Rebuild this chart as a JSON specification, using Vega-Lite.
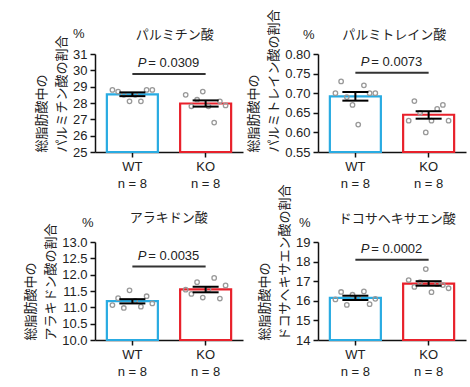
{
  "$schema": "https://vega.github.io/schema/vega-lite/v6.json",
  "padding": {"left": 24, "top": 8, "right": 5, "bottom": 5},
  "bounds": "flush",
  "columns": 2,
  "spacing": {"row": 90, "column": 75},
  "config": {
    "font": "Liberation Sans, Noto Sans CJK JP, sans-serif",
    "view": {"stroke": null},
    "scale": {"bandPaddingInner": 0.3, "bandPaddingOuter": 0.16, "barBandPaddingInner": 0.3, "bandWithNestedOffsetPaddingInner": 0.3, "bandWithNestedOffsetPaddingOuter": 0.16},
    "axis": {"labelFontSize": 13, "titleFontSize": 13, "titleFontWeight": "normal", "labelColor": "#222", "titleColor": "#222", "domainColor": "#111", "tickColor": "#111", "domainWidth": 1.5, "tickWidth": 1.5, "tickSize": 5, "grid": false, "labelPadding": 3, "titlePadding": 4, "labelOverlap": false, "labelFlush": false},
    "text": {"fontSize": 13, "color": "#222"}
  },
  "datasets": {
    "sum": [
      {"acid": "palm", "g": "WT", "mean": 28.53, "lo": 28.42, "hi": 28.65},
      {"acid": "palm", "g": "KO", "mean": 27.97, "lo": 27.78, "hi": 28.16},
      {"acid": "pola", "g": "WT", "mean": 0.692, "lo": 0.681, "hi": 0.703},
      {"acid": "pola", "g": "KO", "mean": 0.645, "lo": 0.635, "hi": 0.654},
      {"acid": "ara", "g": "WT", "mean": 11.19, "lo": 11.12, "hi": 11.25},
      {"acid": "ara", "g": "KO", "mean": 11.55, "lo": 11.46, "hi": 11.63},
      {"acid": "dha", "g": "WT", "mean": 16.15, "lo": 16.04, "hi": 16.26},
      {"acid": "dha", "g": "KO", "mean": 16.88, "lo": 16.77, "hi": 17.0}
    ],
    "pts": [
      {"acid": "palm", "g": "WT", "rep": 1, "v": 28.8},
      {"acid": "palm", "g": "WT", "rep": 2, "v": 28.7},
      {"acid": "palm", "g": "WT", "rep": 3, "v": 28.5},
      {"acid": "palm", "g": "WT", "rep": 4, "v": 28.1},
      {"acid": "palm", "g": "WT", "rep": 5, "v": 28.5},
      {"acid": "palm", "g": "WT", "rep": 6, "v": 28.1},
      {"acid": "palm", "g": "WT", "rep": 7, "v": 28.8},
      {"acid": "palm", "g": "WT", "rep": 8, "v": 28.8},
      {"acid": "palm", "g": "KO", "rep": 1, "v": 28.5},
      {"acid": "palm", "g": "KO", "rep": 2, "v": 27.8},
      {"acid": "palm", "g": "KO", "rep": 3, "v": 28.2},
      {"acid": "palm", "g": "KO", "rep": 4, "v": 28.7},
      {"acid": "palm", "g": "KO", "rep": 5, "v": 27.8},
      {"acid": "palm", "g": "KO", "rep": 6, "v": 26.8},
      {"acid": "palm", "g": "KO", "rep": 7, "v": 28.1},
      {"acid": "palm", "g": "KO", "rep": 8, "v": 27.85},
      {"acid": "pola", "g": "WT", "rep": 1, "v": 0.70},
      {"acid": "pola", "g": "WT", "rep": 2, "v": 0.73},
      {"acid": "pola", "g": "WT", "rep": 3, "v": 0.69},
      {"acid": "pola", "g": "WT", "rep": 4, "v": 0.67},
      {"acid": "pola", "g": "WT", "rep": 5, "v": 0.62},
      {"acid": "pola", "g": "WT", "rep": 6, "v": 0.72},
      {"acid": "pola", "g": "WT", "rep": 7, "v": 0.70},
      {"acid": "pola", "g": "WT", "rep": 8, "v": 0.70},
      {"acid": "pola", "g": "KO", "rep": 1, "v": 0.63},
      {"acid": "pola", "g": "KO", "rep": 2, "v": 0.68},
      {"acid": "pola", "g": "KO", "rep": 3, "v": 0.65},
      {"acid": "pola", "g": "KO", "rep": 4, "v": 0.60},
      {"acid": "pola", "g": "KO", "rep": 5, "v": 0.63},
      {"acid": "pola", "g": "KO", "rep": 6, "v": 0.66},
      {"acid": "pola", "g": "KO", "rep": 7, "v": 0.67},
      {"acid": "pola", "g": "KO", "rep": 8, "v": 0.63},
      {"acid": "ara", "g": "WT", "rep": 1, "v": 11.07},
      {"acid": "ara", "g": "WT", "rep": 2, "v": 11.28},
      {"acid": "ara", "g": "WT", "rep": 3, "v": 10.98},
      {"acid": "ara", "g": "WT", "rep": 4, "v": 11.52},
      {"acid": "ara", "g": "WT", "rep": 5, "v": 11.20},
      {"acid": "ara", "g": "WT", "rep": 6, "v": 11.02},
      {"acid": "ara", "g": "WT", "rep": 7, "v": 11.34},
      {"acid": "ara", "g": "WT", "rep": 8, "v": 11.12},
      {"acid": "ara", "g": "KO", "rep": 1, "v": 11.54},
      {"acid": "ara", "g": "KO", "rep": 2, "v": 11.41},
      {"acid": "ara", "g": "KO", "rep": 3, "v": 11.77},
      {"acid": "ara", "g": "KO", "rep": 4, "v": 11.30},
      {"acid": "ara", "g": "KO", "rep": 5, "v": 11.55},
      {"acid": "ara", "g": "KO", "rep": 6, "v": 11.90},
      {"acid": "ara", "g": "KO", "rep": 7, "v": 11.27},
      {"acid": "ara", "g": "KO", "rep": 8, "v": 11.67},
      {"acid": "dha", "g": "WT", "rep": 1, "v": 16.07},
      {"acid": "dha", "g": "WT", "rep": 2, "v": 16.45},
      {"acid": "dha", "g": "WT", "rep": 3, "v": 15.79},
      {"acid": "dha", "g": "WT", "rep": 4, "v": 16.31},
      {"acid": "dha", "g": "WT", "rep": 5, "v": 16.15},
      {"acid": "dha", "g": "WT", "rep": 6, "v": 16.48},
      {"acid": "dha", "g": "WT", "rep": 7, "v": 15.83},
      {"acid": "dha", "g": "WT", "rep": 8, "v": 16.10},
      {"acid": "dha", "g": "KO", "rep": 1, "v": 17.06},
      {"acid": "dha", "g": "KO", "rep": 2, "v": 16.71},
      {"acid": "dha", "g": "KO", "rep": 3, "v": 16.95},
      {"acid": "dha", "g": "KO", "rep": 4, "v": 17.62},
      {"acid": "dha", "g": "KO", "rep": 5, "v": 16.44},
      {"acid": "dha", "g": "KO", "rep": 6, "v": 16.85},
      {"acid": "dha", "g": "KO", "rep": 7, "v": 16.80},
      {"acid": "dha", "g": "KO", "rep": 8, "v": 16.64}
    ]
  },
  "concat": [
    {
      "width": 148, "height": 98,
      "layer": [
        {"data": {"name": "sum"}, "transform": [{"filter": "datum.acid === 'palm'"}],
         "mark": {"type": "bar", "fill": "white", "strokeWidth": 2.2, "width": 51},
         "encoding": {
           "x": {"field": "g", "type": "nominal", "sort": ["WT", "KO"], "scale": {"paddingInner": 0.3, "paddingOuter": 0.16}, "axis": {"title": null, "labelAngle": 0, "labelExpr": "[datum.label, 'n = 8']", "labelLineHeight": 17, "labelBaseline": "top"}},
           "y": {"field": "mean", "type": "quantitative", "scale": {"domain": [25, 31], "nice": false, "zero": false}, "axis": {"values": [25, 26, 27, 28, 29, 30, 31], "tickCount": 20, "format": "d", "labelOverlap": false, "title": ["総脂肪酸中の", "パルミチン酸の割合"], "titleAnchor": "start", "titleLineHeight": 20}},
           "y2": {"datum": 25},
           "stroke": {"field": "g", "type": "nominal", "scale": {"domain": ["WT", "KO"], "range": ["#29ABE2", "#E8212B"]}, "legend": null}}},
        {"data": {"name": "pts"}, "transform": [{"filter": "datum.acid === 'palm'"}],
         "mark": {"type": "point", "filled": false, "color": "#999999", "strokeWidth": 1.3, "size": 20, "opacity": 1},
         "encoding": {"x": {"field": "g", "type": "nominal", "sort": ["WT", "KO"], "scale": {"paddingInner": 0.3, "paddingOuter": 0.16}}, "xOffset": {"field": "rep", "type": "nominal", "scale": {"type": "point", "padding": 4.6}}, "y": {"field": "v", "type": "quantitative"}}},
        {"data": {"name": "sum"}, "transform": [{"filter": "datum.acid === 'palm'"}],
         "mark": {"type": "rule", "color": "black", "strokeWidth": 2},
         "encoding": {"x": {"field": "g", "type": "nominal", "sort": ["WT", "KO"]}, "y": {"field": "lo", "type": "quantitative"}, "y2": {"field": "hi"}}},
        {"data": {"name": "sum"}, "transform": [{"filter": "datum.acid === 'palm'"}],
         "mark": {"type": "tick", "color": "black", "thickness": 2, "size": 26, "opacity": 1},
         "encoding": {"x": {"field": "g", "type": "nominal", "sort": ["WT", "KO"]}, "y": {"field": "lo", "type": "quantitative"}}},
        {"data": {"name": "sum"}, "transform": [{"filter": "datum.acid === 'palm'"}],
         "mark": {"type": "tick", "color": "black", "thickness": 2, "size": 26, "opacity": 1},
         "encoding": {"x": {"field": "g", "type": "nominal", "sort": ["WT", "KO"]}, "y": {"field": "hi", "type": "quantitative"}}},
        {"data": {"values": [{"p": "= 0.0309"}]},
         "mark": {"type": "rule", "color": "#333", "strokeWidth": 2},
         "encoding": {"x": {"datum": "WT"}, "x2": {"datum": "KO"}, "y": {"datum": 29.78}}},
        {"data": {"values": [{"p": "= 0.0309"}]},
         "mark": {"type": "text", "text": "P", "fontStyle": "italic", "align": "left", "baseline": "middle", "dx": 5.5, "dy": -11},
         "encoding": {"x": {"datum": "WT"}, "y": {"datum": 29.78}}},
        {"data": {"values": [{"p": "= 0.0309"}]},
         "mark": {"type": "text", "align": "left", "baseline": "middle", "dx": 16, "dy": -11},
         "encoding": {"x": {"datum": "WT"}, "y": {"datum": 29.78}, "text": {"field": "p"}}},
        {"data": {"values": [{"t": "パルミチン酸"}]},
         "mark": {"type": "text", "align": "center", "baseline": "middle", "dx": 42.5, "dy": -19},
         "encoding": {"x": {"datum": "WT"}, "y": {"datum": 31}, "text": {"field": "t"}}},
        {"data": {"values": [{"t": "%"}]},
         "mark": {"type": "text", "align": "center", "baseline": "middle", "dx": -53.5, "dy": -20},
         "encoding": {"x": {"datum": "WT"}, "y": {"datum": 31}, "text": {"field": "t"}}}
      ]
    },
    {
      "width": 148, "height": 98,
      "layer": [
        {"data": {"name": "sum"}, "transform": [{"filter": "datum.acid === 'pola'"}],
         "mark": {"type": "bar", "fill": "white", "strokeWidth": 2.2, "width": 51},
         "encoding": {
           "x": {"field": "g", "type": "nominal", "sort": ["WT", "KO"], "scale": {"paddingInner": 0.3, "paddingOuter": 0.16}, "axis": {"title": null, "labelAngle": 0, "labelExpr": "[datum.label, 'n = 8']", "labelLineHeight": 17, "labelBaseline": "top"}},
           "y": {"field": "mean", "type": "quantitative", "scale": {"domain": [0.55, 0.8], "nice": false, "zero": false}, "axis": {"values": [0.55, 0.6, 0.65, 0.7, 0.75, 0.8], "tickCount": 20, "format": ".2f", "labelOverlap": false, "title": ["総脂肪酸中の", "パルミトレイン酸の割合"], "titleAnchor": "start", "titleLineHeight": 20}},
           "y2": {"datum": 0.55},
           "stroke": {"field": "g", "type": "nominal", "scale": {"domain": ["WT", "KO"], "range": ["#29ABE2", "#E8212B"]}, "legend": null}}},
        {"data": {"name": "pts"}, "transform": [{"filter": "datum.acid === 'pola'"}],
         "mark": {"type": "point", "filled": false, "color": "#999999", "strokeWidth": 1.3, "size": 20, "opacity": 1},
         "encoding": {"x": {"field": "g", "type": "nominal", "sort": ["WT", "KO"], "scale": {"paddingInner": 0.3, "paddingOuter": 0.16}}, "xOffset": {"field": "rep", "type": "nominal", "scale": {"type": "point", "padding": 4.6}}, "y": {"field": "v", "type": "quantitative"}}},
        {"data": {"name": "sum"}, "transform": [{"filter": "datum.acid === 'pola'"}],
         "mark": {"type": "rule", "color": "black", "strokeWidth": 2},
         "encoding": {"x": {"field": "g", "type": "nominal", "sort": ["WT", "KO"]}, "y": {"field": "lo", "type": "quantitative"}, "y2": {"field": "hi"}}},
        {"data": {"name": "sum"}, "transform": [{"filter": "datum.acid === 'pola'"}],
         "mark": {"type": "tick", "color": "black", "thickness": 2, "size": 26, "opacity": 1},
         "encoding": {"x": {"field": "g", "type": "nominal", "sort": ["WT", "KO"]}, "y": {"field": "lo", "type": "quantitative"}}},
        {"data": {"name": "sum"}, "transform": [{"filter": "datum.acid === 'pola'"}],
         "mark": {"type": "tick", "color": "black", "thickness": 2, "size": 26, "opacity": 1},
         "encoding": {"x": {"field": "g", "type": "nominal", "sort": ["WT", "KO"]}, "y": {"field": "hi", "type": "quantitative"}}},
        {"data": {"values": [{"p": "= 0.0073"}]},
         "mark": {"type": "rule", "color": "#333", "strokeWidth": 2},
         "encoding": {"x": {"datum": "WT"}, "x2": {"datum": "KO"}, "y": {"datum": 0.752}}},
        {"data": {"values": [{"p": "= 0.0073"}]},
         "mark": {"type": "text", "text": "P", "fontStyle": "italic", "align": "left", "baseline": "middle", "dx": 5.5, "dy": -11},
         "encoding": {"x": {"datum": "WT"}, "y": {"datum": 0.752}}},
        {"data": {"values": [{"p": "= 0.0073"}]},
         "mark": {"type": "text", "align": "left", "baseline": "middle", "dx": 16, "dy": -11},
         "encoding": {"x": {"datum": "WT"}, "y": {"datum": 0.752}, "text": {"field": "p"}}},
        {"data": {"values": [{"t": "パルミトレイン酸"}]},
         "mark": {"type": "text", "align": "center", "baseline": "middle", "dx": 39, "dy": -19},
         "encoding": {"x": {"datum": "WT"}, "y": {"datum": 0.8}, "text": {"field": "t"}}},
        {"data": {"values": [{"t": "%"}]},
         "mark": {"type": "text", "align": "center", "baseline": "middle", "dx": -46.5, "dy": -19},
         "encoding": {"x": {"datum": "WT"}, "y": {"datum": 0.8}, "text": {"field": "t"}}}
      ]
    },
    {
      "width": 148, "height": 98,
      "layer": [
        {"data": {"name": "sum"}, "transform": [{"filter": "datum.acid === 'ara'"}],
         "mark": {"type": "bar", "fill": "white", "strokeWidth": 2.2, "width": 51},
         "encoding": {
           "x": {"field": "g", "type": "nominal", "sort": ["WT", "KO"], "scale": {"paddingInner": 0.3, "paddingOuter": 0.16}, "axis": {"title": null, "labelAngle": 0, "labelExpr": "[datum.label, 'n = 8']", "labelLineHeight": 17, "labelBaseline": "top"}},
           "y": {"field": "mean", "type": "quantitative", "scale": {"domain": [10, 13], "nice": false, "zero": false}, "axis": {"values": [10, 10.5, 11, 11.5, 12, 12.5, 13], "tickCount": 20, "format": ".1f", "labelOverlap": false, "title": ["総脂肪酸中の", "アラキドン酸の割合"], "titleAnchor": "start", "titleLineHeight": 20}},
           "y2": {"datum": 10},
           "stroke": {"field": "g", "type": "nominal", "scale": {"domain": ["WT", "KO"], "range": ["#29ABE2", "#E8212B"]}, "legend": null}}},
        {"data": {"name": "pts"}, "transform": [{"filter": "datum.acid === 'ara'"}],
         "mark": {"type": "point", "filled": false, "color": "#999999", "strokeWidth": 1.3, "size": 20, "opacity": 1},
         "encoding": {"x": {"field": "g", "type": "nominal", "sort": ["WT", "KO"], "scale": {"paddingInner": 0.3, "paddingOuter": 0.16}}, "xOffset": {"field": "rep", "type": "nominal", "scale": {"type": "point", "padding": 4.6}}, "y": {"field": "v", "type": "quantitative"}}},
        {"data": {"name": "sum"}, "transform": [{"filter": "datum.acid === 'ara'"}],
         "mark": {"type": "rule", "color": "black", "strokeWidth": 2},
         "encoding": {"x": {"field": "g", "type": "nominal", "sort": ["WT", "KO"]}, "y": {"field": "lo", "type": "quantitative"}, "y2": {"field": "hi"}}},
        {"data": {"name": "sum"}, "transform": [{"filter": "datum.acid === 'ara'"}],
         "mark": {"type": "tick", "color": "black", "thickness": 2, "size": 26, "opacity": 1},
         "encoding": {"x": {"field": "g", "type": "nominal", "sort": ["WT", "KO"]}, "y": {"field": "lo", "type": "quantitative"}}},
        {"data": {"name": "sum"}, "transform": [{"filter": "datum.acid === 'ara'"}],
         "mark": {"type": "tick", "color": "black", "thickness": 2, "size": 26, "opacity": 1},
         "encoding": {"x": {"field": "g", "type": "nominal", "sort": ["WT", "KO"]}, "y": {"field": "hi", "type": "quantitative"}}},
        {"data": {"values": [{"p": "= 0.0035"}]},
         "mark": {"type": "rule", "color": "#333", "strokeWidth": 2},
         "encoding": {"x": {"datum": "WT"}, "x2": {"datum": "KO"}, "y": {"datum": 12.25}}},
        {"data": {"values": [{"p": "= 0.0035"}]},
         "mark": {"type": "text", "text": "P", "fontStyle": "italic", "align": "left", "baseline": "middle", "dx": 5.5, "dy": -11},
         "encoding": {"x": {"datum": "WT"}, "y": {"datum": 12.25}}},
        {"data": {"values": [{"p": "= 0.0035"}]},
         "mark": {"type": "text", "align": "left", "baseline": "middle", "dx": 16, "dy": -11},
         "encoding": {"x": {"datum": "WT"}, "y": {"datum": 12.25}, "text": {"field": "p"}}},
        {"data": {"values": [{"t": "アラキドン酸"}]},
         "mark": {"type": "text", "align": "center", "baseline": "middle", "dx": 36.5, "dy": -24},
         "encoding": {"x": {"datum": "WT"}, "y": {"datum": 13}, "text": {"field": "t"}}},
        {"data": {"values": [{"t": "%"}]},
         "mark": {"type": "text", "align": "center", "baseline": "middle", "dx": -44.5, "dy": -19},
         "encoding": {"x": {"datum": "WT"}, "y": {"datum": 13}, "text": {"field": "t"}}}
      ]
    },
    {
      "width": 148, "height": 98,
      "layer": [
        {"data": {"name": "sum"}, "transform": [{"filter": "datum.acid === 'dha'"}],
         "mark": {"type": "bar", "fill": "white", "strokeWidth": 2.2, "width": 51},
         "encoding": {
           "x": {"field": "g", "type": "nominal", "sort": ["WT", "KO"], "scale": {"paddingInner": 0.3, "paddingOuter": 0.16}, "axis": {"title": null, "labelAngle": 0, "labelExpr": "[datum.label, 'n = 8']", "labelLineHeight": 17, "labelBaseline": "top"}},
           "y": {"field": "mean", "type": "quantitative", "scale": {"domain": [14, 19], "nice": false, "zero": false}, "axis": {"values": [14, 15, 16, 17, 18, 19], "tickCount": 20, "format": "d", "labelOverlap": false, "title": ["総脂肪酸中の", "ドコサヘキサエン酸の割合"], "titleAnchor": "start", "titleLineHeight": 20}},
           "y2": {"datum": 14},
           "stroke": {"field": "g", "type": "nominal", "scale": {"domain": ["WT", "KO"], "range": ["#29ABE2", "#E8212B"]}, "legend": null}}},
        {"data": {"name": "pts"}, "transform": [{"filter": "datum.acid === 'dha'"}],
         "mark": {"type": "point", "filled": false, "color": "#999999", "strokeWidth": 1.3, "size": 20, "opacity": 1},
         "encoding": {"x": {"field": "g", "type": "nominal", "sort": ["WT", "KO"], "scale": {"paddingInner": 0.3, "paddingOuter": 0.16}}, "xOffset": {"field": "rep", "type": "nominal", "scale": {"type": "point", "padding": 4.6}}, "y": {"field": "v", "type": "quantitative"}}},
        {"data": {"name": "sum"}, "transform": [{"filter": "datum.acid === 'dha'"}],
         "mark": {"type": "rule", "color": "black", "strokeWidth": 2},
         "encoding": {"x": {"field": "g", "type": "nominal", "sort": ["WT", "KO"]}, "y": {"field": "lo", "type": "quantitative"}, "y2": {"field": "hi"}}},
        {"data": {"name": "sum"}, "transform": [{"filter": "datum.acid === 'dha'"}],
         "mark": {"type": "tick", "color": "black", "thickness": 2, "size": 26, "opacity": 1},
         "encoding": {"x": {"field": "g", "type": "nominal", "sort": ["WT", "KO"]}, "y": {"field": "lo", "type": "quantitative"}}},
        {"data": {"name": "sum"}, "transform": [{"filter": "datum.acid === 'dha'"}],
         "mark": {"type": "tick", "color": "black", "thickness": 2, "size": 26, "opacity": 1},
         "encoding": {"x": {"field": "g", "type": "nominal", "sort": ["WT", "KO"]}, "y": {"field": "hi", "type": "quantitative"}}},
        {"data": {"values": [{"p": "= 0.0002"}]},
         "mark": {"type": "rule", "color": "#333", "strokeWidth": 2},
         "encoding": {"x": {"datum": "WT"}, "x2": {"datum": "KO"}, "y": {"datum": 18.1}}},
        {"data": {"values": [{"p": "= 0.0002"}]},
         "mark": {"type": "text", "text": "P", "fontStyle": "italic", "align": "left", "baseline": "middle", "dx": 5.5, "dy": -11},
         "encoding": {"x": {"datum": "WT"}, "y": {"datum": 18.1}}},
        {"data": {"values": [{"p": "= 0.0002"}]},
         "mark": {"type": "text", "align": "left", "baseline": "middle", "dx": 16, "dy": -11},
         "encoding": {"x": {"datum": "WT"}, "y": {"datum": 18.1}, "text": {"field": "p"}}},
        {"data": {"values": [{"t": "ドコサヘキサエン酸"}]},
         "mark": {"type": "text", "align": "center", "baseline": "middle", "dx": 42, "dy": -23},
         "encoding": {"x": {"datum": "WT"}, "y": {"datum": 19}, "text": {"field": "t"}}},
        {"data": {"values": [{"t": "%"}]},
         "mark": {"type": "text", "align": "center", "baseline": "middle", "dx": -50.5, "dy": -19},
         "encoding": {"x": {"datum": "WT"}, "y": {"datum": 19}, "text": {"field": "t"}}}
      ]
    }
  ]
}
